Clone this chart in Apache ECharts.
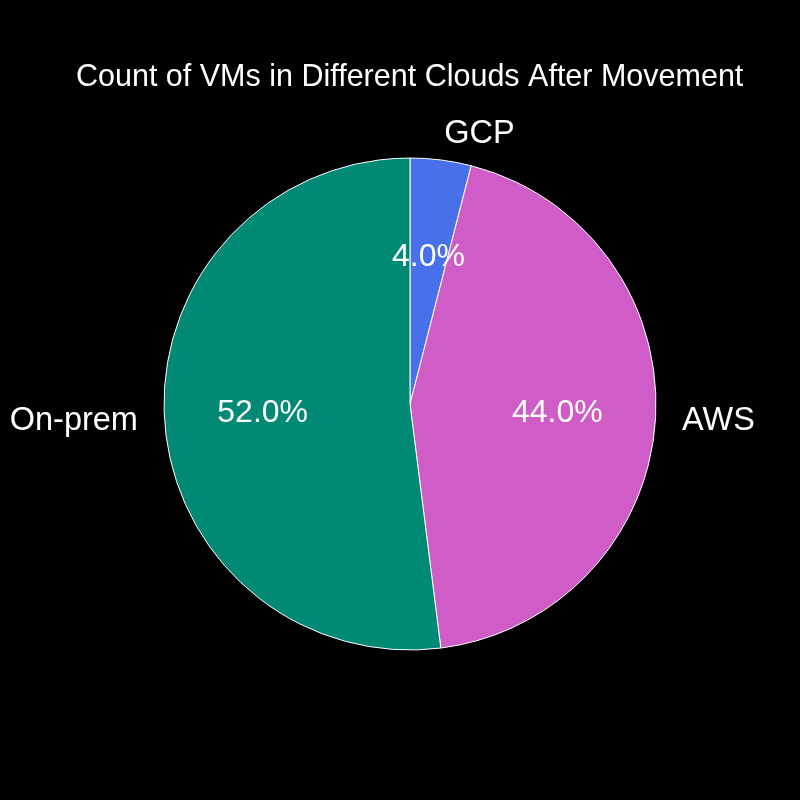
<!DOCTYPE html>
<html>
<head>
<meta charset="utf-8">
<script src="https://cdn.jsdelivr.net/npm/echarts@6/dist/echarts.min.js"></script>
<style>
  html, body { margin: 0; padding: 0; background: #000; }
  #chart { width: 800px; height: 800px; }
</style>
</head>
<body>
<div id="chart"></div>
<script>
const categories = ['GCP', 'AWS', 'On-prem'];
const counts = [1, 11, 13];
const colors = ['#4870E8', '#D05DC7', '#008A76'];
const titleText = 'Count of VMs in Different Clouds After Movement';

const total = counts.reduce((a, b) => a + b, 0);
const R = 246;
const pieData = categories.map((c, i) => ({ name: c, value: counts[i], itemStyle: { color: colors[i] } }));
const pctData = categories.map((c, i) => ({ name: c, value: counts[i] }));

const chart = echarts.init(document.getElementById('chart'), null, { renderer: 'canvas' });
chart.setOption({
  backgroundColor: '#000',
  animation: false,
  title: {
    text: titleText,
    left: 76,
    top: 62,
    padding: 0,
    textStyle: { color: '#fff', fontSize: 30.5, fontWeight: 'normal', fontFamily: 'Liberation Sans, Arial, sans-serif' }
  },
  series: [
    {
      type: 'pie',
      center: [410, 404],
      radius: [0, R],
      startAngle: 90,
      clockwise: true,
      avoidLabelOverlap: false,
      silent: true,
      data: pieData,
      itemStyle: { borderColor: '#fff', borderWidth: 1 },
      label: {
        show: true,
        position: 'outside',
        formatter: '{b}',
        color: '#fff',
        fontSize: 32.5,
        fontFamily: 'Liberation Sans, Arial, sans-serif',
        distanceToLabelLine: 0
      },
      labelLine: { show: false, length: R * 0.1 + 2, length2: 0 }
    },
    {
      type: 'pie',
      center: [410, 404],
      radius: [0, 2 * (R * 0.6 - 3)],
      startAngle: 90,
      clockwise: true,
      avoidLabelOverlap: false,
      silent: true,
      data: pctData,
      itemStyle: { color: 'rgba(0,0,0,0)', borderWidth: 0 },
      label: {
        show: true,
        position: 'inside',
        formatter: (p) => (p.value / total * 100).toFixed(1) + '%',
        color: '#fff',
        fontSize: 32,
        fontFamily: 'Liberation Sans, Arial, sans-serif'
      },
      labelLine: { show: false }
    }
  ]
});
</script>
</body>
</html>
